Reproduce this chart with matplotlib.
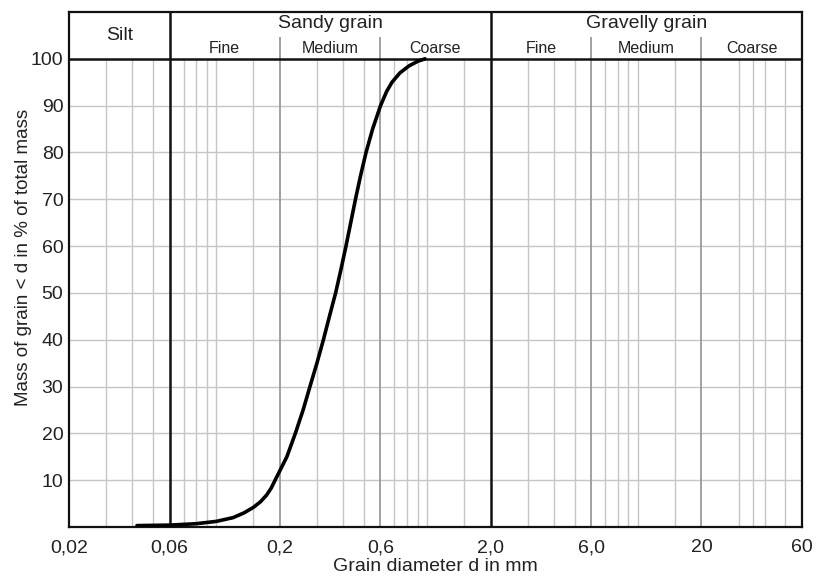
import numpy as np
import matplotlib
matplotlib.use("Agg")
import matplotlib.pyplot as plt

plt.rcParams['font.family'] = ['Liberation Sans', 'DejaVu Sans']

# Grain size distribution curve (diameter in mm, cumulative mass %)
diameter = [0.042, 0.06, 0.08, 0.1, 0.12, 0.135, 0.15, 0.162, 0.173, 0.182,
            0.19, 0.216, 0.237, 0.258, 0.278, 0.300, 0.322, 0.344, 0.368,
            0.390, 0.412, 0.434, 0.457, 0.483, 0.513, 0.551, 0.601, 0.642,
            0.681, 0.743, 0.821, 0.905, 0.977]
passing = [0.3, 0.4, 0.7, 1.2, 2.0, 3.0, 4.2, 5.4, 6.8, 8.3,
           10, 15, 20, 25, 30, 35, 40, 45, 50,
           55, 60, 65, 70, 75, 80, 85, 90, 93,
           95, 97, 98.5, 99.5, 100]

# Axis ticks
x_ticks = [0.02, 0.06, 0.2, 0.6, 2.0, 6.0, 20, 60]
x_tick_labels = ["0,02", "0,06", "0,2", "0,6", "2,0", "6,0", "20", "60"]
y_ticks = [10, 20, 30, 40, 50, 60, 70, 80, 90, 100]

# Grid lines
light_grid = [0.03, 0.04, 0.05, 0.07, 0.08, 0.09, 0.1, 0.15, 0.3, 0.4, 0.5,
              0.7, 0.8, 0.9, 1.0, 1.5, 3, 4, 5, 7, 8, 9, 10, 15, 30, 35, 40, 50]
sub_bounds = [0.2, 0.6, 6.0, 20]
main_bounds = [0.06, 2.0]

# Header classes
main_classes = [("Silt", 0.02, 0.06), ("Sandy grain", 0.06, 2.0),
                ("Gravelly grain", 2.0, 60)]
sub_classes = [("Fine", 0.06, 0.2), ("Medium", 0.2, 0.6), ("Coarse", 0.6, 2.0),
               ("Fine", 2.0, 6.0), ("Medium", 6.0, 20), ("Coarse", 20, 60)]

text_color = "#222222"

fig = plt.figure(figsize=(8.19, 5.77), dpi=100)
ax = fig.add_axes([69 / 819, 1 - 527 / 577, 733 / 819, 515 / 577])
ax.set_xscale("log")
ax.set_xlim(0.02, 60)
ax.set_ylim(0, 110)

for x in light_grid:
    ax.vlines(x, 0, 100, color="#c6c6c6", lw=1.0, zorder=1)
for y in y_ticks[:-1]:
    ax.axhline(y, color="#c6c6c6", lw=1.0, zorder=1)
for x in sub_bounds:
    ax.vlines(x, 0, 104.7, color="#9a9a9a", lw=1.3, zorder=2)
for x in main_bounds:
    ax.vlines(x, 0, 110, color="#111111", lw=1.8, zorder=3)
ax.axhline(100, color="#111111", lw=1.8, zorder=3)

ax.plot(diameter, passing, color="black", lw=2.6, solid_capstyle="round",
        solid_joinstyle="round", zorder=4)

for name, lo, hi in main_classes:
    xc = np.sqrt(lo * hi)
    yc = 105 if name == "Silt" else 107.6
    ax.text(xc, yc, name, ha="center", va="center", fontsize=14, color=text_color)
for name, lo, hi in sub_classes:
    ax.text(np.sqrt(lo * hi), 102.1, name, ha="center", va="center",
            fontsize=11.5, color=text_color)

ax.set_xticks(x_ticks)
ax.set_xticklabels(x_tick_labels)
ax.xaxis.set_minor_locator(matplotlib.ticker.NullLocator())
ax.set_yticks(y_ticks)
ax.tick_params(length=0, labelsize=14, labelcolor=text_color)
ax.tick_params(axis="x", pad=9)
ax.tick_params(axis="y", pad=4)

for s in ax.spines.values():
    s.set_linewidth(1.6)
    s.set_color("#111111")

fig.text(435.5 / 819, 1 - 571 / 577, "Grain diameter d in mm", ha="center",
         va="baseline", fontsize=14, color=text_color)
ax.set_ylabel("Mass of grain < d in % of total mass", fontsize=13.5, color=text_color)
ax.yaxis.set_label_coords(-0.05, 0.524)

fig.savefig("out.png", dpi=100)
